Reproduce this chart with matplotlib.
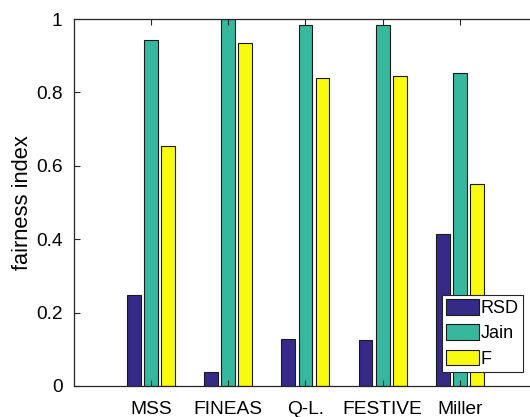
import numpy as np
import matplotlib
matplotlib.use("Agg")
import matplotlib.pyplot as plt

plt.rcParams['font.family'] = ['Liberation Sans', 'DejaVu Sans']

methods = ["MSS", "FINEAS", "Q-L.", "FESTIVE", "Miller"]
series_names = ["RSD", "Jain", "F"]
rsd = [0.248, 0.039, 0.128, 0.125, 0.414]
jain = [0.942, 1.0, 0.985, 0.985, 0.854]
f_index = [0.655, 0.935, 0.840, 0.845, 0.550]
y_ticks = [0, 0.2, 0.4, 0.6, 0.8, 1]
y_ticklabels = ["0", "0.2", "0.4", "0.6", "0.8", "1"]

colors = ["#352A87", "#36B89E", "#F9FB0E"]

W, H = 530, 417
fig = plt.figure(figsize=(W / 100, H / 100), dpi=100)
left, bottom, top = 73.5, 386, 19
unit = 77.3
ax = fig.add_axes([left / W, (H - bottom) / H, 6 * unit / W, (bottom - top) / H])

x = np.arange(1, len(methods) + 1)
step = 0.2222
width = 0.178
for i, (vals, name, c) in enumerate(zip([rsd, jain, f_index], series_names, colors)):
    ax.bar(x + (i - 1) * step, vals, width=width, color=c, edgecolor="#1a1a1a",
           linewidth=0.8, label=name)

ax.set_xlim(0, 6)
ax.set_ylim(0, 1)
ax.set_xticks(x)
ax.set_xticklabels(methods, fontsize=13.75)
ax.set_yticks(y_ticks)
ax.set_yticklabels(y_ticklabels, fontsize=13.75)
ax.tick_params(direction="in", top=True, right=True, length=4, width=0.8,
               colors="#262626", labelcolor="black", pad=8)
ax.tick_params(axis="x", pad=11)
for s in ax.spines.values():
    s.set_color("#262626")
    s.set_linewidth(0.9)
ax.set_ylabel("fairness index", fontsize=15.75, labelpad=2)

leg = ax.legend(loc="lower left", bbox_to_anchor=(441.7 / W, (H - 372.3) / H),
                bbox_transform=fig.transFigure, fontsize=13, frameon=True,
                fancybox=False, edgecolor="#262626", framealpha=1,
                borderpad=0.25, labelspacing=0.4, handlelength=1.8,
                handleheight=0.97, handletextpad=0.12, borderaxespad=0)
leg.get_frame().set_linewidth(0.8)

fig.savefig("out.png", dpi=100)
